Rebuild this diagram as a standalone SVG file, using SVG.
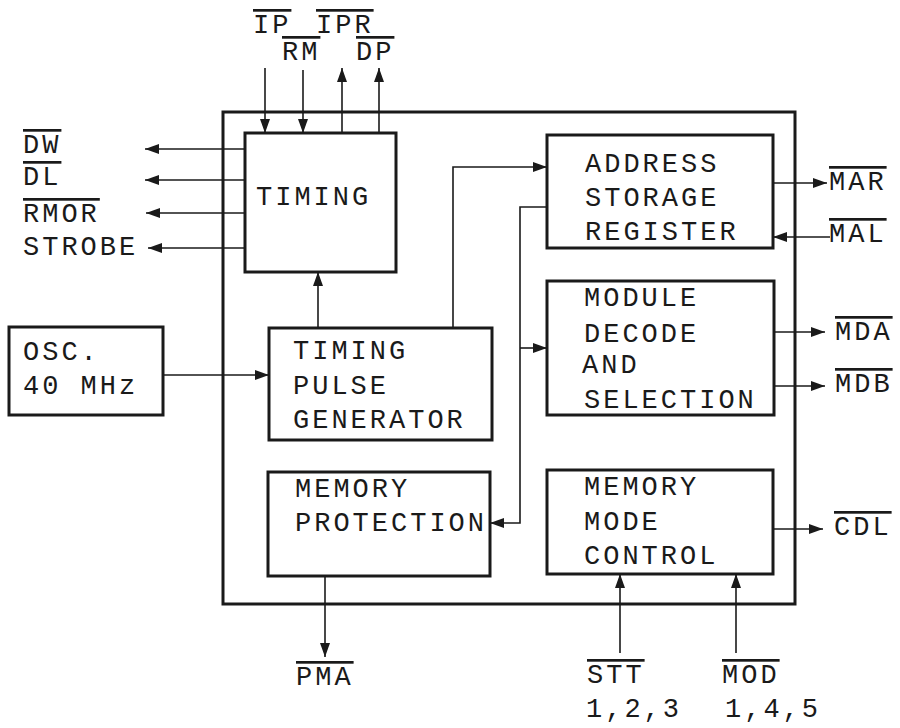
<svg xmlns="http://www.w3.org/2000/svg" width="900" height="728" viewBox="0 0 900 728">
<style>
  text { font-family: "Liberation Mono", "DejaVu Sans Mono", monospace; font-size: 27px; letter-spacing: 3px; fill: #1a1a1a; }
  .ov { text-decoration: overline; }
  .box { fill: none; stroke: #1a1a1a; stroke-width: 3; }
  .outer { fill: none; stroke: #1a1a1a; stroke-width: 3; }
  .wire { fill: none; stroke: #1a1a1a; stroke-width: 1.6; }
  .arr { marker-end: url(#ah); }
</style>
<defs>
  <marker id="ah" viewBox="0 0 14 10" refX="14" refY="5" markerWidth="14" markerHeight="10" markerUnits="userSpaceOnUse" orient="auto">
    <path d="M0,0 L14,5 L0,10 z" fill="#1a1a1a"/>
  </marker>
</defs>
<rect width="900" height="728" fill="#ffffff"/>

<g id="memory-controller">
  <rect class="outer" x="223" y="112" width="572" height="492"/>
</g>

<g id="timing">
  <rect class="box" x="245" y="133" width="151" height="139"/>
  <text x="256" y="205">TIMING</text>
</g>

<g id="address-storage-register">
  <rect class="box" x="547" y="135" width="226" height="113"/>
  <text x="585" y="172">ADDRESS</text>
  <text x="585" y="206">STORAGE</text>
  <text x="585" y="240">REGISTER</text>
</g>

<g id="module-decode">
  <rect class="box" x="547" y="281" width="227" height="134"/>
  <text x="584" y="306">MODULE</text>
  <text x="584" y="342">DECODE</text>
  <text x="582" y="373">AND</text>
  <text x="584" y="408">SELECTION</text>
</g>

<g id="oscillator">
  <rect class="box" x="9" y="327" width="154" height="88"/>
  <text x="23" y="360">OSC.</text>
  <text x="23" y="394">40 MHz</text>
</g>

<g id="timing-pulse-generator">
  <rect class="box" x="269" y="328" width="223" height="112"/>
  <text x="293" y="359">TIMING</text>
  <text x="293" y="394">PULSE</text>
  <text x="293" y="428">GENERATOR</text>
</g>

<g id="memory-protection">
  <rect class="box" x="268" y="472" width="222" height="104"/>
  <text x="295" y="497">MEMORY</text>
  <text x="295" y="531">PROTECTION</text>
</g>

<g id="memory-mode-control">
  <rect class="box" x="547" y="470" width="226" height="104"/>
  <text x="584" y="495">MEMORY</text>
  <text x="584" y="530">MODE</text>
  <text x="584" y="564">CONTROL</text>
</g>

<g id="connectors">
  <line class="wire arr" x1="265" y1="68" x2="265" y2="133"/>
  <line class="wire arr" x1="303" y1="70" x2="303" y2="133"/>
  <line class="wire arr" x1="342" y1="133" x2="342" y2="68"/>
  <line class="wire arr" x1="379" y1="133" x2="379" y2="68"/>
  <line class="wire arr" x1="245" y1="149" x2="145" y2="149"/>
  <line class="wire arr" x1="245" y1="180" x2="145" y2="180"/>
  <line class="wire arr" x1="245" y1="213" x2="146" y2="213"/>
  <line class="wire arr" x1="245" y1="248" x2="148" y2="248"/>
  <line class="wire arr" x1="318" y1="328" x2="318" y2="272"/>
  <line class="wire arr" x1="163" y1="375" x2="269" y2="375"/>
  <polyline class="wire arr" points="453,328 453,167 547,167"/>
  <polyline class="wire arr" points="547,207 520,207 520,523 490,523"/>
  <line class="wire arr" x1="520" y1="348" x2="547" y2="348"/>
  <line class="wire arr" x1="773" y1="183" x2="827" y2="183"/>
  <line class="wire arr" x1="830" y1="237" x2="773" y2="237"/>
  <line class="wire arr" x1="774" y1="332" x2="825" y2="332"/>
  <line class="wire arr" x1="774" y1="386" x2="825" y2="386"/>
  <line class="wire arr" x1="773" y1="529" x2="823" y2="529"/>
  <line class="wire arr" x1="325" y1="576" x2="325" y2="657"/>
  <line class="wire arr" x1="620" y1="653" x2="620" y2="574"/>
  <line class="wire arr" x1="736" y1="653" x2="736" y2="574"/>
</g>

<g id="labels">
  <text class="ov" x="253" y="33">IP</text>
  <text class="ov" x="282" y="60">RM</text>
  <text class="ov" x="316" y="33">IPR</text>
  <text class="ov" x="356" y="60">DP</text>
  <text class="ov" x="23" y="153">DW</text>
  <text class="ov" x="23" y="185">DL</text>
  <text class="ov" x="23" y="222">RMOR</text>
  <text x="23" y="255">STROBE</text>
  <text class="ov" x="829" y="190">MAR</text>
  <text class="ov" x="829" y="242">MAL</text>
  <text class="ov" x="835" y="340">MDA</text>
  <text class="ov" x="835" y="392">MDB</text>
  <text class="ov" x="834" y="535">CDL</text>
  <text class="ov" x="296" y="685">PMA</text>
  <text class="ov" x="587" y="683">STT</text>
  <text class="ov" x="722" y="683">MOD</text>
  <text x="586" y="717">1,2,3</text>
  <text x="725" y="717">1,4,5</text>
</g>
</svg>
